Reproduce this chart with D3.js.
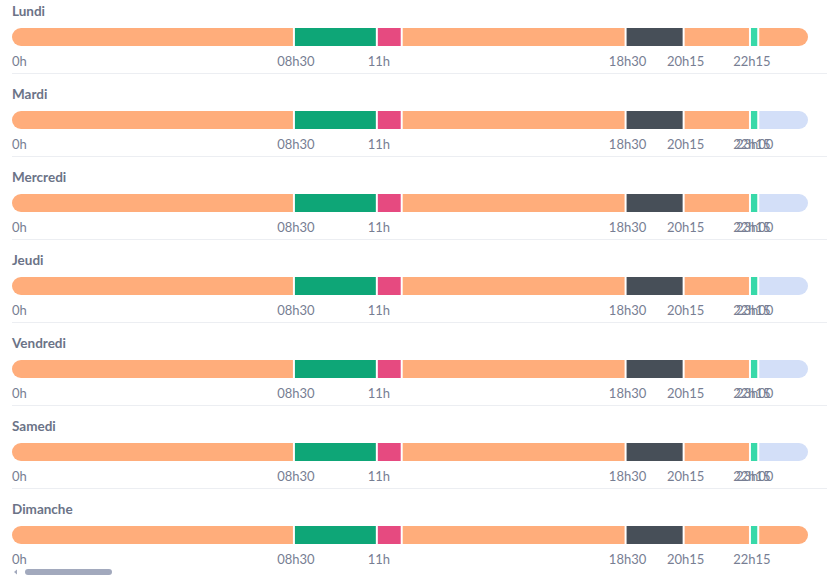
<!DOCTYPE html>
<html><head><meta charset="utf-8">
<script src="https://cdn.jsdelivr.net/npm/d3@7"></script>
<style>
body{margin:0;background:#fff;overflow:hidden;}
svg{display:block;font-family:Lato,"Open Sans",sans-serif;}
</style></head><body>
<svg id="c" width="827" height="584"></svg>
<script>
const days = ["Lundi","Mardi","Mercredi","Jeudi","Vendredi","Samedi","Dimanche"];
// segment types per day: [start hour, end hour, type]
const weekendLike = [[0,8.5,"libre"],[8.5,11,"travail"],[11,11.75,"repas"],[11.75,18.5,"libre"],[18.5,20.25,"trajet"],[20.25,22.25,"libre"],[22.25,22.5,"pause"],[22.5,24,"libre"]];
const weekday = [[0,8.5,"libre"],[8.5,11,"travail"],[11,11.75,"repas"],[11.75,18.5,"libre"],[18.5,20.25,"trajet"],[20.25,22.25,"libre"],[22.25,22.5,"pause"],[22.5,24,"sommeil"]];
const segmentsByDay = [weekendLike, weekday, weekday, weekday, weekday, weekday, weekendLike];
const labelsA = [[0,"0h"],[8.5,"08h30"],[11,"11h"],[18.5,"18h30"],[20.25,"20h15"],[22.25,"22h15"]];
const labelsB = [[0,"0h"],[8.5,"08h30"],[11,"11h"],[18.5,"18h30"],[20.25,"20h15"],[22.25,"22h15"],[22.33,"23h00"]];
const labelsByDay = [labelsA, labelsB, labelsB, labelsB, labelsB, labelsB, labelsA];
const colors = {libre:"#ffad7b", travail:"#0ea677", repas:"#e64a80", trajet:"#474f58", pause:"#38d9a9", sommeil:"#d3dff8"};

const svg = d3.select("#c");
const x = d3.scaleLinear().domain([0,24]).range([12,808]);
const rowH = 83, barY = 28, barH = 18;

days.forEach((day,i)=>{
  const g = svg.append("g").attr("transform",`translate(0,${i*rowH})`);
  g.append("text").attr("x",12).attr("y",16).text(day)
    .attr("font-size",13.5).attr("font-weight",700).attr("fill","#6b7387");
  const cid = "clip"+i;
  g.append("clipPath").attr("id",cid).append("rect")
    .attr("x",x(0)).attr("y",barY).attr("width",x(24)-x(0)).attr("height",barH).attr("rx",barH/2);
  const bars = g.append("g").attr("clip-path",`url(#${cid})`);
  bars.selectAll("rect").data(segmentsByDay[i]).join("rect")
    .attr("x",d=>x(d[0])+(d[0]>0?1:0))
    .attr("width",d=>x(d[1])-x(d[0])-(d[0]>0?1:0)-(d[1]<24?1:0))
    .attr("y",barY).attr("height",barH)
    .attr("fill",d=>colors[d[2]]);
  g.selectAll("text.lab").data(labelsByDay[i]).join("text").attr("class","lab")
    .attr("x",d=>d[0]===0?x(0):x(d[0])+2)
    .attr("text-anchor",d=>d[0]===0?"start":"middle")
    .attr("y",66).attr("font-size",13).attr("fill","#777e93").text(d=>d[1]);
  if(i<days.length-1){
    g.append("line").attr("x1",12).attr("x2",827).attr("y1",73.5).attr("y2",73.5)
      .attr("stroke","#eceef2").attr("stroke-width",1);
  }
});
// scrollbar
svg.append("rect").attr("x",25).attr("y",569).attr("width",87).attr("height",6).attr("rx",3).attr("fill","#a2a9bd");
svg.append("path").attr("d","M14,572 L17,569.5 L17,574.5 Z").attr("fill","#a2a9bd");
</script>
</body></html>
